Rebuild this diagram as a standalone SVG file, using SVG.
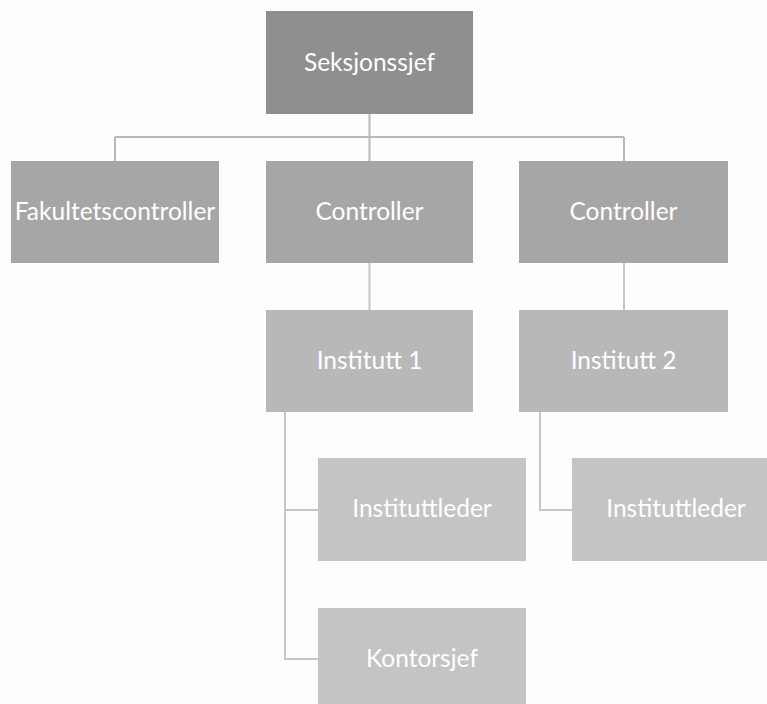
<svg xmlns="http://www.w3.org/2000/svg" width="767" height="704" viewBox="0 0 767 704">
<style>
.t{font-family:Lato,"Open Sans","Liberation Sans",sans-serif;font-size:24.5px;fill:#ffffff;text-anchor:middle}
.c{fill:none;stroke:#c6c6c6;stroke-width:2}
.c0{fill:none;stroke:#b8b8b8;stroke-width:2}
.l1{fill:#8f8f8f}.l2{fill:#a6a6a6}.l3{fill:#b8b8b8}.l4{fill:#c4c4c4}
</style>
<rect width="767" height="704" fill="#fdfdfd"/>
<g id="connectors">
<path class="c0" d="M369.5 114V161M115 137H624M115 137V161M624 137V161"/>
<path class="c" d="M369.5 263V310M624 263V310"/>
<path class="c" d="M285 412V659H318M285 510H318"/>
<path class="c" d="M540 412V510H572"/>
</g>
<g id="seksjonssjef"><rect class="l1" x="266" y="11" width="207" height="103"/><text class="t" x="369.5" y="71">Seksjonssjef</text></g>
<g id="fakultetscontroller"><rect class="l2" x="11" y="161" width="208" height="102"/><text class="t" x="115" y="219.5">Fakultetscontroller</text></g>
<g id="controller1"><rect class="l2" x="266" y="161" width="207" height="102"/><text class="t" x="369.5" y="219.5">Controller</text></g>
<g id="controller2"><rect class="l2" x="519" y="161" width="209" height="102"/><text class="t" x="623.5" y="219.5">Controller</text></g>
<g id="institutt1"><rect class="l3" x="266" y="310" width="207" height="102"/><text class="t" x="369.5" y="368.5">Institutt 1</text></g>
<g id="institutt2"><rect class="l3" x="519" y="310" width="209" height="102"/><text class="t" x="623.5" y="368.5">Institutt 2</text></g>
<g id="instituttleder1"><rect class="l4" x="318" y="458" width="208" height="103"/><text class="t" x="422" y="517">Instituttleder</text></g>
<g id="instituttleder2"><rect class="l4" x="572" y="458" width="208" height="103"/><text class="t" x="676" y="517">Instituttleder</text></g>
<g id="kontorsjef"><rect class="l4" x="318" y="608" width="208" height="103"/><text class="t" x="422" y="667">Kontorsjef</text></g>
</svg>
